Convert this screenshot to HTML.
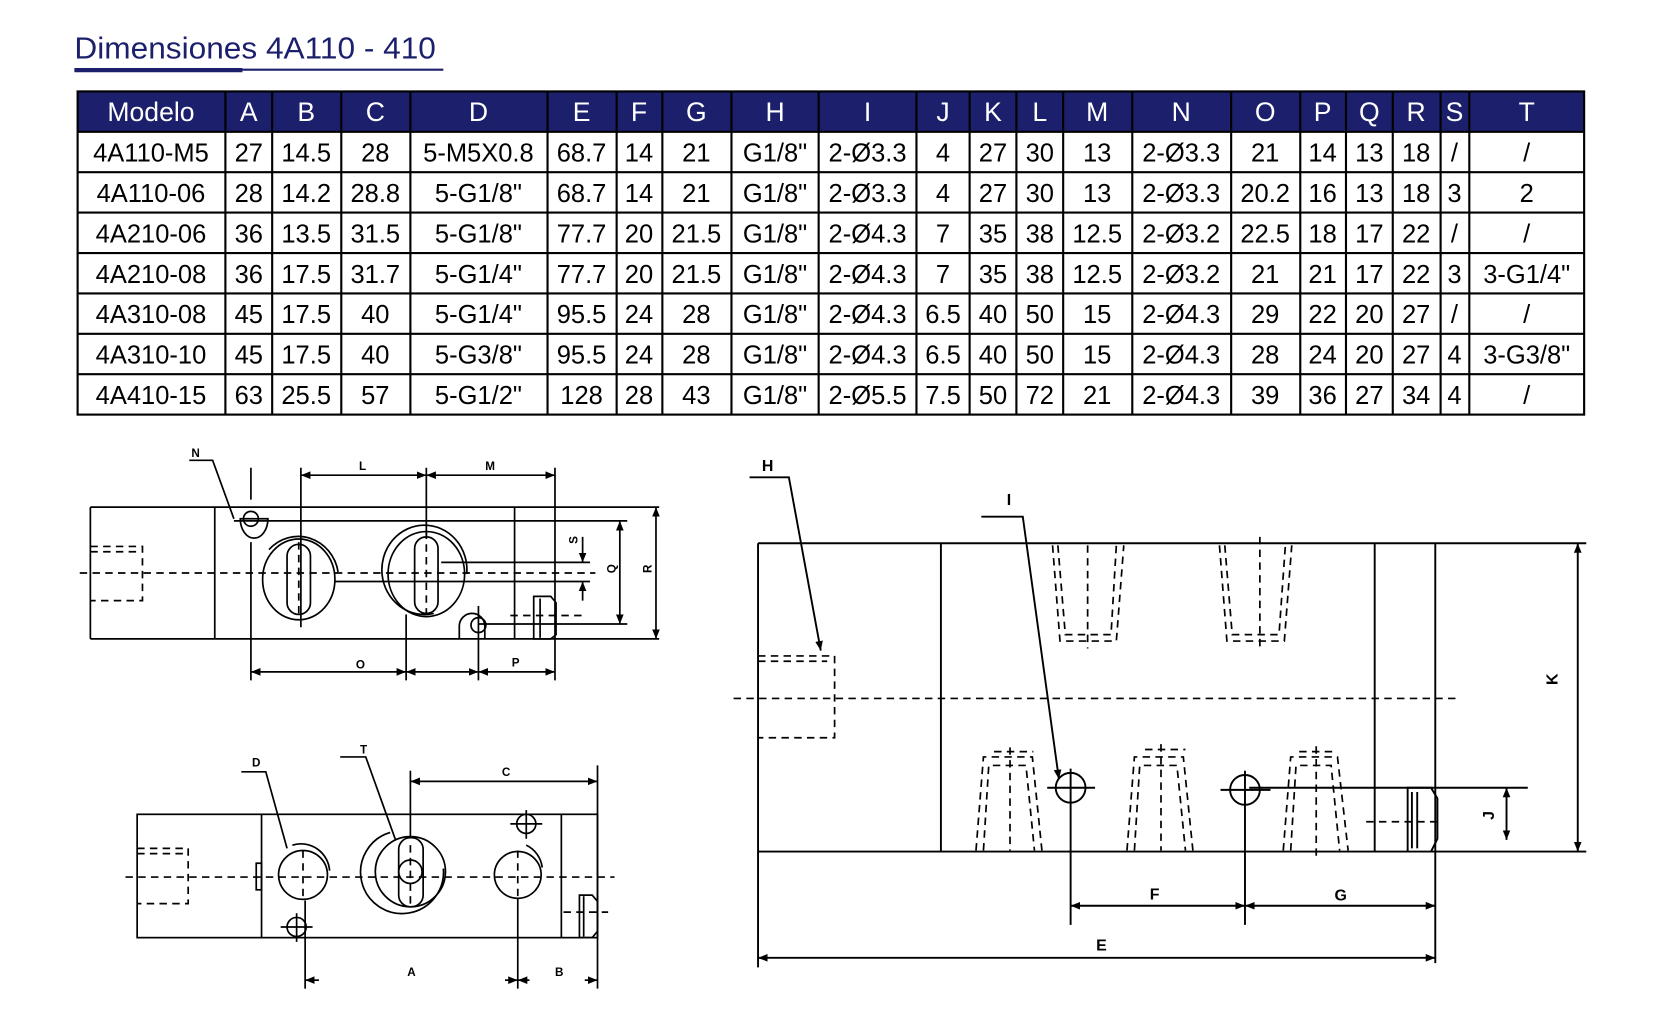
<!DOCTYPE html>
<html><head><meta charset="utf-8"><style>
html,body{margin:0;padding:0;background:#fff;}
svg{display:block;}
</style></head><body>
<svg width="1666" height="1028" viewBox="0 0 1567 967" preserveAspectRatio="none" xmlns="http://www.w3.org/2000/svg" font-family="Liberation Sans, sans-serif">
<defs>
<marker id="a" viewBox="0 0 10 10" refX="10" refY="5" markerWidth="9" markerHeight="9" orient="auto-start-reverse" markerUnits="userSpaceOnUse"><path d="M0,1 L10,5 L0,9 z" fill="#000"/></marker>
</defs>
<!-- Title -->
<text x="70" y="55" font-size="29" fill="#1c1f6b" textLength="340" lengthAdjust="spacingAndGlyphs">Dimensiones 4A110 - 410</text>
<line x1="70" y1="65.5" x2="417" y2="65.5" stroke="#1c1f6b" stroke-width="2"/>
<line x1="70" y1="66" x2="228" y2="66" stroke="#1c1f6b" stroke-width="4"/>

<!-- Table -->
<rect x="73" y="86" width="1417" height="38" fill="#1c1f6b"/>
<g stroke="#000" stroke-width="2" fill="none">
<rect x="73" y="86" width="1417" height="304"/>
<line x1="73" y1="124" x2="1490" y2="124"/><line x1="73" y1="162" x2="1490" y2="162"/>
<line x1="73" y1="200" x2="1490" y2="200"/><line x1="73" y1="238" x2="1490" y2="238"/>
<line x1="73" y1="276" x2="1490" y2="276"/><line x1="73" y1="314" x2="1490" y2="314"/>
<line x1="73" y1="352" x2="1490" y2="352"/>
<line x1="212" y1="86" x2="212" y2="390"/><line x1="256" y1="86" x2="256" y2="390"/>
<line x1="321" y1="86" x2="321" y2="390"/><line x1="386" y1="86" x2="386" y2="390"/>
<line x1="515" y1="86" x2="515" y2="390"/><line x1="580" y1="86" x2="580" y2="390"/>
<line x1="623" y1="86" x2="623" y2="390"/><line x1="688" y1="86" x2="688" y2="390"/>
<line x1="770" y1="86" x2="770" y2="390"/><line x1="862" y1="86" x2="862" y2="390"/>
<line x1="912" y1="86" x2="912" y2="390"/><line x1="956" y1="86" x2="956" y2="390"/>
<line x1="1000" y1="86" x2="1000" y2="390"/><line x1="1065" y1="86" x2="1065" y2="390"/>
<line x1="1158" y1="86" x2="1158" y2="390"/><line x1="1223" y1="86" x2="1223" y2="390"/>
<line x1="1266" y1="86" x2="1266" y2="390"/><line x1="1310" y1="86" x2="1310" y2="390"/>
<line x1="1355" y1="86" x2="1355" y2="390"/><line x1="1382" y1="86" x2="1382" y2="390"/>
</g>
<g font-size="25" text-anchor="middle" fill="#fff">
<text x="142" y="114">Modelo</text><text x="234" y="114">A</text><text x="288" y="114">B</text><text x="353" y="114">C</text><text x="450" y="114">D</text><text x="547" y="114">E</text><text x="601" y="114">F</text><text x="655" y="114">G</text><text x="729" y="114">H</text><text x="816" y="114">I</text><text x="887" y="114">J</text><text x="934" y="114">K</text><text x="978" y="114">L</text><text x="1032" y="114">M</text><text x="1111" y="114">N</text><text x="1190" y="114">O</text><text x="1244" y="114">P</text><text x="1288" y="114">Q</text><text x="1332" y="114">R</text><text x="1368" y="114">S</text><text x="1436" y="114">T</text>
</g>
<g font-size="24" text-anchor="middle" fill="#000">
<g transform="translate(0,152)"><text x="142">4A110-M5</text><text x="234">27</text><text x="288">14.5</text><text x="353">28</text><text x="450">5-M5X0.8</text><text x="547">68.7</text><text x="601">14</text><text x="655">21</text><text x="729">G1/8"</text><text x="816">2-Ø3.3</text><text x="887">4</text><text x="934">27</text><text x="978">30</text><text x="1032">13</text><text x="1111">2-Ø3.3</text><text x="1190">21</text><text x="1244">14</text><text x="1288">13</text><text x="1332">18</text><text x="1368">/</text><text x="1436">/</text></g>
<g transform="translate(0,190)"><text x="142">4A110-06</text><text x="234">28</text><text x="288">14.2</text><text x="353">28.8</text><text x="450">5-G1/8"</text><text x="547">68.7</text><text x="601">14</text><text x="655">21</text><text x="729">G1/8"</text><text x="816">2-Ø3.3</text><text x="887">4</text><text x="934">27</text><text x="978">30</text><text x="1032">13</text><text x="1111">2-Ø3.3</text><text x="1190">20.2</text><text x="1244">16</text><text x="1288">13</text><text x="1332">18</text><text x="1368">3</text><text x="1436">2</text></g>
<g transform="translate(0,228)"><text x="142">4A210-06</text><text x="234">36</text><text x="288">13.5</text><text x="353">31.5</text><text x="450">5-G1/8"</text><text x="547">77.7</text><text x="601">20</text><text x="655">21.5</text><text x="729">G1/8"</text><text x="816">2-Ø4.3</text><text x="887">7</text><text x="934">35</text><text x="978">38</text><text x="1032">12.5</text><text x="1111">2-Ø3.2</text><text x="1190">22.5</text><text x="1244">18</text><text x="1288">17</text><text x="1332">22</text><text x="1368">/</text><text x="1436">/</text></g>
<g transform="translate(0,266)"><text x="142">4A210-08</text><text x="234">36</text><text x="288">17.5</text><text x="353">31.7</text><text x="450">5-G1/4"</text><text x="547">77.7</text><text x="601">20</text><text x="655">21.5</text><text x="729">G1/8"</text><text x="816">2-Ø4.3</text><text x="887">7</text><text x="934">35</text><text x="978">38</text><text x="1032">12.5</text><text x="1111">2-Ø3.2</text><text x="1190">21</text><text x="1244">21</text><text x="1288">17</text><text x="1332">22</text><text x="1368">3</text><text x="1436">3-G1/4"</text></g>
<g transform="translate(0,304)"><text x="142">4A310-08</text><text x="234">45</text><text x="288">17.5</text><text x="353">40</text><text x="450">5-G1/4"</text><text x="547">95.5</text><text x="601">24</text><text x="655">28</text><text x="729">G1/8"</text><text x="816">2-Ø4.3</text><text x="887">6.5</text><text x="934">40</text><text x="978">50</text><text x="1032">15</text><text x="1111">2-Ø4.3</text><text x="1190">29</text><text x="1244">22</text><text x="1288">20</text><text x="1332">27</text><text x="1368">/</text><text x="1436">/</text></g>
<g transform="translate(0,342)"><text x="142">4A310-10</text><text x="234">45</text><text x="288">17.5</text><text x="353">40</text><text x="450">5-G3/8"</text><text x="547">95.5</text><text x="601">24</text><text x="655">28</text><text x="729">G1/8"</text><text x="816">2-Ø4.3</text><text x="887">6.5</text><text x="934">40</text><text x="978">50</text><text x="1032">15</text><text x="1111">2-Ø4.3</text><text x="1190">28</text><text x="1244">24</text><text x="1288">20</text><text x="1332">27</text><text x="1368">4</text><text x="1436">3-G3/8"</text></g>
<g transform="translate(0,380)"><text x="142">4A410-15</text><text x="234">63</text><text x="288">25.5</text><text x="353">57</text><text x="450">5-G1/2"</text><text x="547">128</text><text x="601">28</text><text x="655">43</text><text x="729">G1/8"</text><text x="816">2-Ø5.5</text><text x="887">7.5</text><text x="934">50</text><text x="978">72</text><text x="1032">21</text><text x="1111">2-Ø4.3</text><text x="1190">39</text><text x="1244">36</text><text x="1288">27</text><text x="1332">34</text><text x="1368">4</text><text x="1436">/</text></g>
</g>

<!-- Top-left drawing -->
<g stroke="#000" stroke-width="1.6" fill="none">
<line x1="85" y1="477" x2="620" y2="477"/><line x1="85" y1="601" x2="620" y2="601"/>
<line x1="85" y1="477" x2="85" y2="601"/><line x1="202" y1="477" x2="202" y2="601"/>
<line x1="484" y1="477" x2="484" y2="601"/>
<line x1="220" y1="490" x2="590" y2="490"/>
<line x1="450" y1="587" x2="590" y2="587"/>
<line x1="315" y1="547" x2="555" y2="547"/>
<line x1="415" y1="529" x2="555" y2="529"/>
<path d="M226,488 a10,14 0 1 0 26,0 z" />
<circle cx="236" cy="488" r="7"/>
<path d="M432,601 v-12 a12,12 0 0 1 24,0 v12"/>
<circle cx="450" cy="588" r="7"/>
<ellipse cx="281" cy="545" rx="34" ry="38"/>
<path d="M253,517 a38,40 0 0 1 65,21"/>
<rect x="270" y="512" width="22" height="66" rx="11"/>
<ellipse cx="401" cy="540" rx="36" ry="40"/>
<path d="M408,577 a40,42 0 1 1 31,-37"/>
<rect x="390" y="505" width="22" height="72" rx="11"/>
<path d="M502,601 v-40 h16 l5,6 v30 l-5,4 z"/>
<line x1="508" y1="563" x2="508" y2="600"/>
<line x1="236" y1="440" x2="236" y2="470"/><line x1="236" y1="510" x2="236" y2="640"/>
<line x1="283" y1="440" x2="283" y2="590"/>
<line x1="401" y1="440" x2="401" y2="505"/>
<line x1="382" y1="578" x2="382" y2="640"/>
<line x1="450" y1="570" x2="450" y2="640"/>
<line x1="522" y1="440" x2="522" y2="640"/>
<line x1="283" y1="447" x2="401" y2="447" marker-start="url(#a)" marker-end="url(#a)"/>
<line x1="401" y1="447" x2="522" y2="447" marker-start="url(#a)" marker-end="url(#a)"/>
<line x1="236" y1="632" x2="382" y2="632" marker-start="url(#a)" marker-end="url(#a)"/>
<line x1="382" y1="632" x2="450" y2="632" marker-start="url(#a)" marker-end="url(#a)"/>
<line x1="450" y1="632" x2="522" y2="632" marker-start="url(#a)" marker-end="url(#a)"/>
<line x1="583" y1="490" x2="583" y2="587" marker-start="url(#a)" marker-end="url(#a)"/>
<line x1="617" y1="477" x2="617" y2="601" marker-start="url(#a)" marker-end="url(#a)"/>
<line x1="548" y1="505" x2="548" y2="529" marker-end="url(#a)"/>
<line x1="548" y1="565" x2="548" y2="547" marker-end="url(#a)"/>
<polyline points="178,433 200,433 220,488"/>
</g>
<g stroke="#000" stroke-width="1.6" fill="none" stroke-dasharray="7,5">
<line x1="75" y1="539" x2="560" y2="539"/>
<polyline points="85,514 134,514 134,565 85,565"/>
<line x1="85" y1="519" x2="130" y2="519"/>
<line x1="281" y1="510" x2="281" y2="580"/><line x1="401" y1="500" x2="401" y2="578"/>
<line x1="480" y1="579" x2="552" y2="579"/>
</g>
<g font-size="11" font-weight="bold" text-anchor="middle">
<text x="184" y="430">N</text><text x="341" y="442">L</text><text x="461" y="442">M</text>
<text x="339" y="629">O</text><text x="485" y="627">P</text>
<text transform="translate(543,508) rotate(-90)" x="0" y="0">S</text>
<text transform="translate(579,535) rotate(-90)">Q</text>
<text transform="translate(613,535) rotate(-90)">R</text>
</g>

<!-- Bottom-left drawing -->
<g stroke="#000" stroke-width="1.6" fill="none">
<rect x="129" y="766" width="433" height="116"/>
<line x1="246" y1="766" x2="246" y2="882"/><line x1="528" y1="766" x2="528" y2="882"/>
<rect x="241" y="812" width="5" height="25"/>
<circle cx="285" cy="823" r="23"/><path d="M275,795 a27,27 0 0 1 35,24"/>
<circle cx="386" cy="820" r="33"/><path d="M367,783 a39,39 0 1 0 50,34"/>
<rect x="375" y="788" width="23" height="65" rx="11"/><circle cx="386" cy="820" r="11"/>
<circle cx="487" cy="823" r="22"/><path d="M495,795 a27,27 0 0 1 15,21"/>
<circle cx="495" cy="775" r="9"/><line x1="480" y1="775" x2="510" y2="775"/><line x1="495" y1="762" x2="495" y2="789"/>
<circle cx="279" cy="872" r="9"/><line x1="264" y1="872" x2="294" y2="872"/><line x1="279" y1="859" x2="279" y2="886"/>
<path d="M545,882 v-40 h12 l5,6 v28 l-5,6 z"/><line x1="549" y1="843" x2="549" y2="881"/>
<line x1="386" y1="725" x2="386" y2="787"/>
<line x1="562" y1="720" x2="562" y2="930"/>
<line x1="287" y1="847" x2="287" y2="930"/>
<line x1="487" y1="845" x2="487" y2="930"/>
<line x1="386" y1="735" x2="562" y2="735" marker-start="url(#a)" marker-end="url(#a)"/>
<line x1="287" y1="922" x2="300" y2="922" marker-start="url(#a)"/>
<line x1="475" y1="922" x2="487" y2="922" marker-end="url(#a)"/>
<line x1="487" y1="922" x2="498" y2="922" marker-start="url(#a)"/>
<line x1="550" y1="922" x2="562" y2="922" marker-end="url(#a)"/>
<polyline points="227,726 250,726 270,798"/>
<polyline points="320,712 344,712 372,790"/>
</g>
<g stroke="#000" stroke-width="1.6" fill="none" stroke-dasharray="7,5">
<line x1="118" y1="825" x2="578" y2="825"/>
<polyline points="129,798 177,798 177,850 129,850"/>
<line x1="129" y1="803" x2="172" y2="803"/>
<line x1="386" y1="795" x2="386" y2="850"/>
<line x1="285" y1="800" x2="285" y2="845"/><line x1="487" y1="800" x2="487" y2="845"/>
<line x1="530" y1="858" x2="572" y2="858"/>
</g>
<g font-size="11" font-weight="bold" text-anchor="middle">
<text x="241" y="721">D</text><text x="342" y="709">T</text><text x="476" y="730">C</text>
<text x="387" y="918">A</text><text x="526" y="918">B</text>
</g>

<!-- Right drawing -->
<g stroke="#000" stroke-width="1.8" fill="none">
<line x1="713" y1="511" x2="1492" y2="511"/><line x1="713" y1="801" x2="1492" y2="801"/>
<line x1="713" y1="511" x2="713" y2="910"/>
<line x1="885" y1="511" x2="885" y2="801"/>
<line x1="1293" y1="511" x2="1293" y2="801"/>
<line x1="1350" y1="511" x2="1350" y2="906"/>
<circle cx="1007" cy="741" r="14"/><line x1="985" y1="741" x2="1030" y2="741"/><line x1="1007" y1="723" x2="1007" y2="870"/>
<circle cx="1171" cy="743" r="14"/><line x1="1148" y1="743" x2="1195" y2="743"/><line x1="1171" y1="725" x2="1171" y2="870"/>
<line x1="1175" y1="741" x2="1437" y2="741"/>
<path d="M1324,801 v-60 h22 l6,10 v38 l-6,12"/><line x1="1328" y1="745" x2="1328" y2="798"/><line x1="1333" y1="745" x2="1333" y2="798"/>
<line x1="1484" y1="511" x2="1484" y2="801" marker-start="url(#a)" marker-end="url(#a)"/>
<line x1="1417" y1="741" x2="1417" y2="790" marker-start="url(#a)" marker-end="url(#a)"/>
<line x1="1007" y1="852" x2="1171" y2="852" marker-start="url(#a)" marker-end="url(#a)"/>
<line x1="1171" y1="852" x2="1350" y2="852" marker-start="url(#a)" marker-end="url(#a)"/>
<line x1="713" y1="901" x2="1350" y2="901" marker-start="url(#a)" marker-end="url(#a)"/>
<polyline points="705,449 742,449 772,612" marker-end="url(#a)"/>
<polyline points="923,486 962,486 996,733" marker-end="url(#a)"/>
</g>
<g stroke="#000" stroke-width="1.6" fill="none" stroke-dasharray="7,5">
<line x1="690" y1="657" x2="1370" y2="657"/>
<polyline points="713,617 785,617 785,694 713,694"/>
<line x1="713" y1="622" x2="778" y2="622"/>
<line x1="1285" y1="773" x2="1355" y2="773"/>
<polyline points="990,513 997,603 1050,603 1057,513"/><polyline points="995,513 1002,597 1045,597 1050,513"/>
<line x1="1023" y1="513" x2="1023" y2="610"/>
<polyline points="1147,513 1154,603 1208,603 1215,513"/><polyline points="1152,513 1159,597 1203,597 1209,513"/>
<line x1="1185" y1="505" x2="1185" y2="610"/>
<polyline points="918,800 925,712 971,712 980,800"/><polyline points="925,800 930,720 965,720 973,800"/><line x1="950" y1="703" x2="950" y2="800"/><line x1="935" y1="707" x2="972" y2="707"/>
<polyline points="1060,800 1067,712 1113,712 1122,800"/><polyline points="1067,800 1072,720 1107,720 1115,800"/><line x1="1092" y1="700" x2="1092" y2="800"/><line x1="1077" y1="705" x2="1115" y2="705"/>
<polyline points="1207,800 1214,712 1258,712 1268,800"/><polyline points="1214,800 1219,720 1252,720 1260,800"/><line x1="1238" y1="702" x2="1238" y2="805"/><line x1="1222" y1="707" x2="1258" y2="707"/>
</g>
<g font-size="15" font-weight="bold" text-anchor="middle">
<text x="722" y="443">H</text><text x="949" y="475">I</text>
<text x="1086" y="846">F</text><text x="1261" y="847">G</text><text x="1036" y="894">E</text>
<text transform="translate(1465,639) rotate(-90)">K</text>
<text transform="translate(1405,767) rotate(-90)">J</text>
</g>
</svg>
</body></html>
